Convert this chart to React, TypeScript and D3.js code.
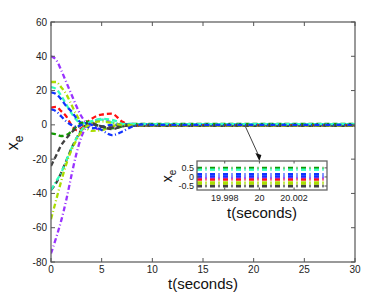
import React from "react";
import * as d3 from "d3";

const width = 392;
const height = 295;
const margin = { top: 22, right: 37, bottom: 33, left: 51 };

// sample times (seconds)
const times = [0, 0.5, 1, 1.5, 2, 2.5, 3, 3.5, 4, 5, 6, 7, 8, 9, 10, 12, 15, 20, 25, 30];

// state error trajectories
const purpleTop = [40, 38, 32, 25, 18, 11, 5, 1, -1.5, -2.5, -1.5, 0.3, 0.5, 0.1, -0.1, -0.05, -0.05, -0.05, -0.05, -0.05];
const purpleLow = [-75, -66, -56, -44, -30, -17, -7, -1, 2, 3, 1.5, 0, -0.5, -0.2, -0.08, -0.08, -0.08, -0.08, -0.08, -0.08];
const yellowTop = [25, 25, 22, 18, 12, 6, 1, -2, -3.5, -3, -1, 0.5, 0.3, -0.2, -0.3, -0.3, -0.3, -0.3, -0.3, -0.3];
const cyanTop = [22, 21, 17, 12, 7, 3, 1, 1, 2, 3.5, 3, 1, 0.5, 0.4, 0.42, 0.42, 0.42, 0.42, 0.42, 0.42];
const blueTop = [19, 18, 15, 11, 8, 4, 1, -1, -2, -1, 0, 0.3, 0.15, 0.15, 0.15, 0.15, 0.15, 0.15, 0.15, 0.15];
const redLine = [10, 10.5, 8, 5, 0, -3, -2, 1, 3.5, 6, 6.5, 2, -0.5, -0.3, -0.15, -0.15, -0.15, -0.15, -0.15, -0.15];
const greenLow = [-5, -5.5, -6.5, -6, -4, -1, 1, 2, 1, -1, -2, -1, 0.5, 0.5, 0.5, 0.5, 0.5, 0.5, 0.5, 0.5];
const grayA = [-38, -34, -28, -21, -14, -8, -3, 0, 1, -1, -2.5, -1, -0.3, -0.5, -0.48, -0.48, -0.48, -0.48, -0.48, -0.48];
const grayB = [-24, -18, -12, -8, -4.5, -2, 0, 1, 0.5, -1, -1.5, -0.5, -0.5, -0.52, -0.52, -0.52, -0.52, -0.52, -0.52, -0.52];
const cyanLow = [-38, -33, -28, -21, -14, -8, -3, 0, 2, 3, 1.5, 0.5, 0.4, 0.4, 0.4, 0.4, 0.4, 0.4, 0.4, 0.4];
const yellowLow = [-55, -44, -33, -23, -15, -9, -4, -1, 1, 2, 1, 0, -0.3, -0.36, -0.36, -0.36, -0.36, -0.36, -0.36, -0.36];
const blueLow = [9, 8, 5, 2, 0, -1, 0, 1, 0, -3, -6, -4, -1, 0.2, 0.03, 0.03, 0.03, 0.03, 0.03, 0.03];

const dashed = "5,3";
const dashDot = "5,2.5,1,2.5";

const series = [
  { values: purpleTop, color: "#9933ff", dash: dashDot },
  { values: purpleLow, color: "#9933ff", dash: dashDot },
  { values: yellowTop, color: "#aadd00", dash: dashDot },
  { values: cyanTop, color: "#33ffbb", dash: dashed },
  { values: blueTop, color: "#1133ff", dash: dashed },
  { values: redLine, color: "#ff1111", dash: dashed },
  { values: greenLow, color: "#119900", dash: dashed },
  { values: grayA, color: "#404040", dash: dashed },
  { values: grayB, color: "#404040", dash: dashed },
  { values: cyanLow, color: "#33ffbb", dash: dashDot },
  { values: yellowLow, color: "#aadd00", dash: dashDot },
  { values: blueLow, color: "#1133ff", dash: dashDot },
];

const xTicks = [0, 5, 10, 15, 20, 25, 30];
const yTicks = [-80, -60, -40, -20, 0, 20, 40, 60];
const insetXTicks = [19.998, 20, 20.002];
const insetYTicks = [-0.5, 0, 0.5];

const font = "Liberation Sans, Arial, sans-serif";

export default function App() {
  const x = d3.scaleLinear().domain([0, 30]).range([margin.left, width - margin.right]);
  const y = d3.scaleLinear().domain([-80, 60]).range([height - margin.bottom, margin.top]);

  const ix = d3.scaleLinear().domain([19.9964, 20.0039]).range([197, 327]);
  const iy = d3.scaleLinear().domain([-0.72, 0.88]).range([190, 161]);

  const line = d3
    .line<number>()
    .x((_, i) => x(times[i]))
    .y((d) => y(d))
    .curve(d3.curveMonotoneX);

  const t20 = times.indexOf(20);
  const insetLine = d3
    .line<number>()
    .x((d) => ix(d))
    .y((d) => iy(d));

  const [x0, x1] = x.range();
  const [y0, y1] = y.range();
  const [ix0, ix1] = ix.range();
  const [iy0, iy1] = iy.range();
  const axisColor = "#555";

  // arrow from the converged line to the inset
  const ax1 = x(19.2), ay1 = y(0) + 2;
  const ax2 = ix(20), ay2 = iy1;

  return (
    <svg width={width} height={height} style={{ position: "absolute", left: 0, top: 0 }} fontFamily={font}>
      <rect width={width} height={height} fill="white" />
      <defs>
        <clipPath id="mainClip">
          <rect x={x0} y={y1} width={x1 - x0} height={y0 - y1} />
        </clipPath>
        <clipPath id="insetClip">
          <rect x={ix0} y={iy1} width={ix1 - ix0} height={iy0 - iy1} />
        </clipPath>
      </defs>

      <g clipPath="url(#mainClip)">
        {series.map((s, i) => (
          <path key={i} d={line(s.values) || ""} fill="none" stroke={s.color} strokeWidth={2.3} strokeDasharray={s.dash} />
        ))}
      </g>

      {/* main frame + ticks */}
      <rect x={x0} y={y1} width={x1 - x0} height={y0 - y1} fill="none" stroke={axisColor} strokeWidth={1.2} />
      {xTicks.map((t) => (
        <g key={"x" + t}>
          <line x1={x(t)} x2={x(t)} y1={y0} y2={y0 - 4} stroke={axisColor} />
          <line x1={x(t)} x2={x(t)} y1={y1} y2={y1 + 4} stroke={axisColor} />
          <text x={x(t)} y={y0 + 11} fontSize={10} textAnchor="middle" fill="#222">{t}</text>
        </g>
      ))}
      {yTicks.map((t) => (
        <g key={"y" + t}>
          <line x1={x0} x2={x0 + 4} y1={y(t)} y2={y(t)} stroke={axisColor} />
          <line x1={x1} x2={x1 - 4} y1={y(t)} y2={y(t)} stroke={axisColor} />
          <text x={x0 - 4} y={y(t) + 3.5} fontSize={10} textAnchor="end" fill="#222">{t}</text>
        </g>
      ))}
      <text x={(x0 + x1) / 2} y={289} fontSize={15} textAnchor="middle" fill="#111">t(seconds)</text>
      <text transform={`translate(18,143) rotate(-90)`} fontSize={16} textAnchor="middle" fill="#111">
        x<tspan fontSize={12} dy={5}>e</tspan>
      </text>

      {/* arrow */}
      <line x1={ax1} y1={ay1} x2={ax2 - 1} y2={ay2 - 6} stroke="#111" strokeWidth={0.8} />
      <path d={`M${ax2 - 4},${ay2 - 8} L${ax2 + 2},${ay2 - 6} L${ax2},${ay2} Z`} fill="#111" />

      {/* inset */}
      <rect x={ix0} y={iy1} width={ix1 - ix0} height={iy0 - iy1} fill="white" />
      <g clipPath="url(#insetClip)">
        {series.map((s, i) => {
          const v = s.values[t20];
          return (
            <path
              key={i}
              d={insetLine.y(() => iy(v))(ix.domain()) || ""}
              fill="none"
              stroke={s.color}
              strokeWidth={2.3}
              strokeDasharray="5,3.5,1,3.5"
            />
          );
        })}
      </g>
      <rect x={ix0} y={iy1} width={ix1 - ix0} height={iy0 - iy1} fill="none" stroke="#666" strokeWidth={1.3} />
      {insetXTicks.map((t) => (
        <g key={"ix" + t}>
          <line x1={ix(t)} x2={ix(t)} y1={iy0} y2={iy0 - 2.5} stroke={axisColor} />
          <line x1={ix(t)} x2={ix(t)} y1={iy1} y2={iy1 + 2.5} stroke={axisColor} />
          <text x={ix(t)} y={iy0 + 11} fontSize={9} textAnchor="middle" fill="#222">{t}</text>
        </g>
      ))}
      {insetYTicks.map((t) => (
        <g key={"iy" + t}>
          <line x1={ix0} x2={ix0 + 2.5} y1={iy(t)} y2={iy(t)} stroke={axisColor} />
          <line x1={ix1} x2={ix1 - 2.5} y1={iy(t)} y2={iy(t)} stroke={axisColor} />
          <text x={ix0 - 3} y={iy(t) + 3} fontSize={9} textAnchor="end" fill="#222">{t}</text>
        </g>
      ))}
      <text x={(ix0 + ix1) / 2} y={218} fontSize={15} textAnchor="middle" fill="#111">t(seconds)</text>
      <text transform={`translate(172,176) rotate(-90)`} fontSize={14} textAnchor="middle" fill="#111">
        x<tspan fontSize={10} dy={4}>e</tspan>
      </text>
    </svg>
  );
}
